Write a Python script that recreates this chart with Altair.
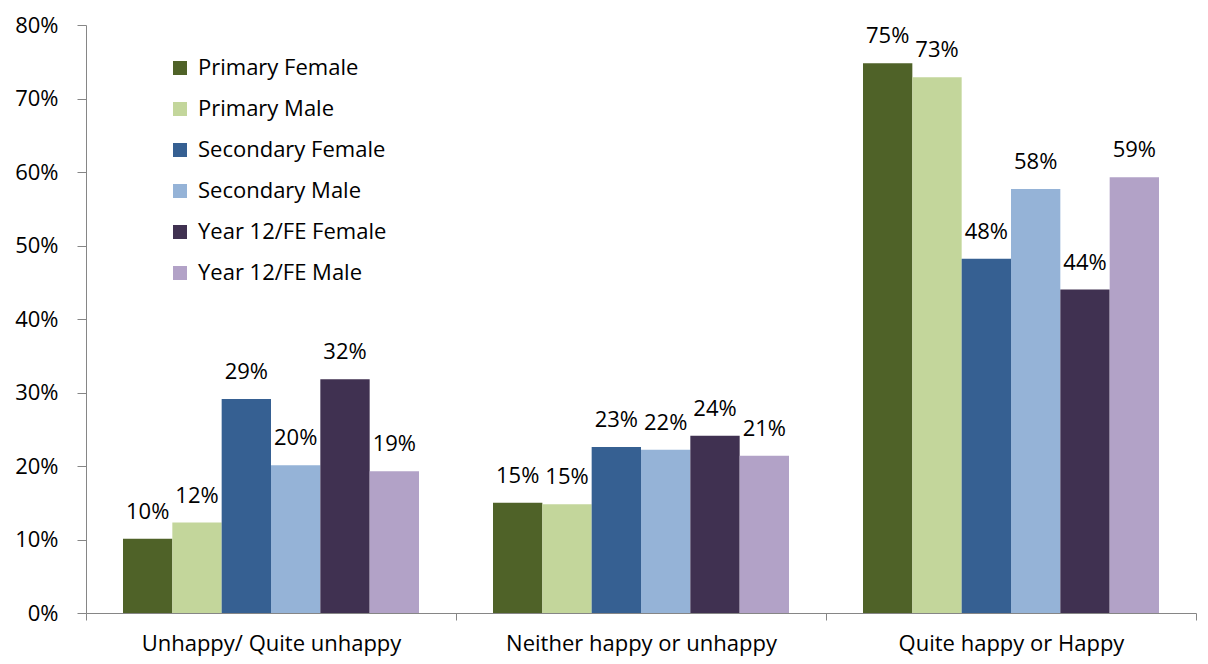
import altair as alt
import pandas as pd

categories = ["Unhappy/ Quite unhappy", "Neither happy or unhappy", "Quite happy or Happy"]
series = ["Primary Female", "Primary Male", "Secondary Female",
          "Secondary Male", "Year 12/FE Female", "Year 12/FE Male"]
colors = ["#4F6228", "#C3D69B", "#366092", "#95B3D7", "#403151", "#B2A2C7"]

primary_female = [0.101, 0.150, 0.748]
primary_male = [0.123, 0.148, 0.729]
secondary_female = [0.291, 0.226, 0.482]
secondary_male = [0.201, 0.222, 0.577]
year12_female = [0.318, 0.241, 0.440]
year12_male = [0.193, 0.214, 0.593]

values = [primary_female, primary_male, secondary_female,
          secondary_male, year12_female, year12_male]

rows = []
for s, vals in zip(series, values):
    for c, v in zip(categories, vals):
        rows.append({"category": c, "series": s, "value": v})
df = pd.DataFrame(rows)

FONT = "Open Sans"
FS = 22

x = alt.X("category:N", sort=categories, title=None,
          scale=alt.Scale(paddingInner=0, paddingOuter=0),
          axis=alt.Axis(labelAngle=0, labelFontSize=FS, labelColor="#000000",
                        labelFont=FONT, tickBand="extent", tickSize=7,
                        tickColor="#868686", domainColor="#868686",
                        labelPadding=13, labelLimit=0))
xoff = alt.XOffset("series:N", sort=series,
                   scale=alt.Scale(paddingInner=0, paddingOuter=0.75))
y = alt.Y("value:Q", title=None,
          scale=alt.Scale(domain=[0, 0.8], nice=False),
          axis=alt.Axis(format=".0%", values=[i / 10 for i in range(9)],
                        grid=False, labelFontSize=FS, labelColor="#000000",
                        labelFont=FONT, tickSize=9, tickColor="#868686",
                        domainColor="#868686", labelPadding=19))

color = alt.Color("series:N", sort=series,
                  scale=alt.Scale(domain=series, range=colors),
                  legend=alt.Legend(orient="none", legendX=83, legendY=32,
                                    title=None, symbolType="square",
                                    symbolSize=196, symbolStrokeWidth=0,
                                    labelFontSize=FS, labelFont=FONT,
                                    labelColor="#000000", rowPadding=19,
                                    labelOffset=7, padding=0, labelLimit=0))

bars = alt.Chart(df).mark_bar().encode(x=x, xOffset=xoff, y=y, color=color)

labels = alt.Chart(df).mark_text(
    fontSize=FS, font=FONT, color="#000000", baseline="alphabetic", dy=-20
).encode(x=x, xOffset=xoff, y=y, text=alt.Text("value:Q", format=".0%"))

chart = (bars + labels).properties(
    width=1110, height=588,
    padding={"left": 78, "top": 17, "right": 4, "bottom": 43},
    autosize=alt.AutoSizeParams(type="none"),
).configure(background="white").configure_view(stroke=None)

chart.save("out.html", embed_options={"renderer": "svg", "actions": False})
